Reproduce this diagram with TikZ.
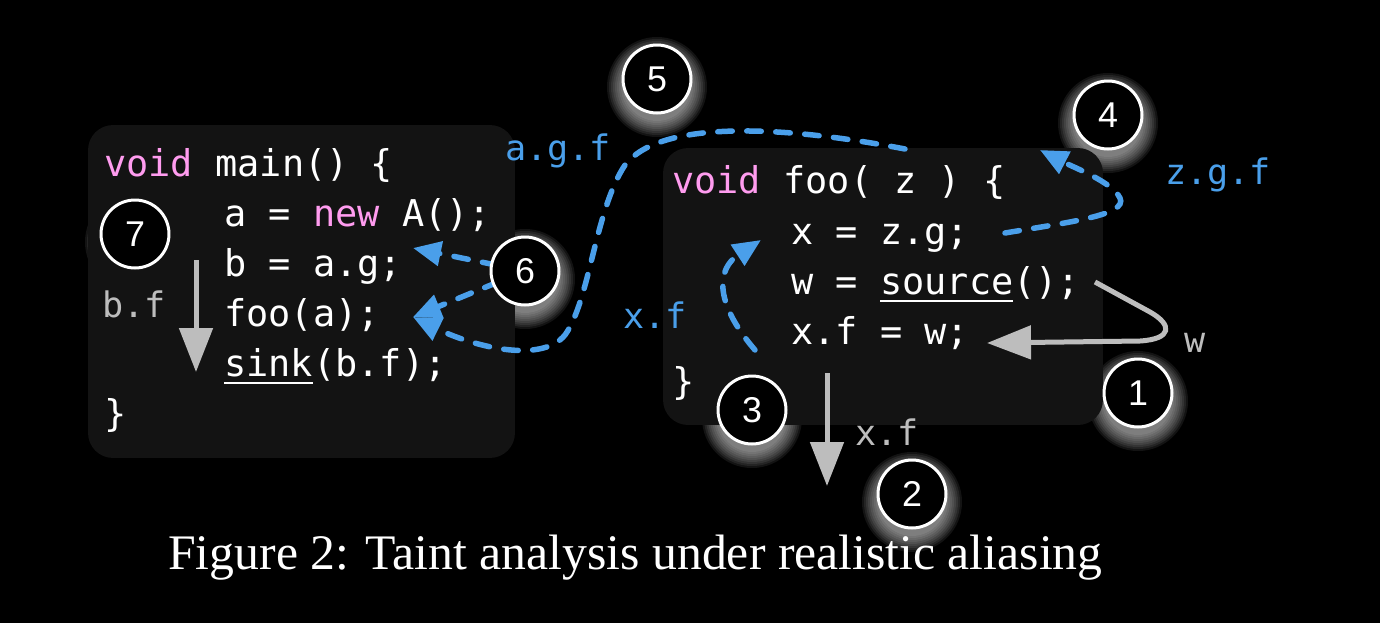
\documentclass[tikz,border=0pt]{standalone}
\usepackage{fontspec}
\setmainfont{Liberation Serif}
\setsansfont{Liberation Sans}
\setmonofont{DejaVu Sans Mono}
\usepackage{xcolor}
\usepackage{tikz}
\usetikzlibrary{arrows.meta}
\definecolor{boxgrey}{HTML}{131313}
\definecolor{kwpink}{HTML}{FF9CEF}
\definecolor{taintblue}{HTML}{4A9FEA}
\definecolor{flowgrey}{HTML}{BDBDBD}
\newcommand{\kw}[1]{\textcolor{kwpink}{#1}}
\newcommand{\undl}[1]{\setbox0\hbox{#1}\rlap{\rule[-0.23em]{\wd0}{0.08em}}\box0}
\tikzstyle{codebox} = [rectangle, rounded corners=0.5cm, fill=boxgrey, inner sep=0]
\tikzstyle{code} = [anchor=base west, inner sep=0, text=white, font=\ttfamily\fontsize{21}{25}\selectfont]
\tikzstyle{tlabel} = [anchor=base west, inner sep=0, text=taintblue, font=\ttfamily\fontsize{20}{24}\selectfont]
\tikzstyle{flabel} = [tlabel, text=flowgrey]
\tikzstyle{stepnum} = [circle, draw=white, line width=0.06cm, fill=black, text=white, minimum size=1.36cm, inner sep=0, font=\sffamily\fontsize{20.4}{22}\selectfont]
\tikzstyle{flow} = [line width=0.1cm, color=flowgrey, -{Triangle[length=0.88cm, width=0.66cm]}]
\tikzstyle{taint} = [line width=0.11cm, color=taintblue, line cap=round, dash pattern=on 0.29cm off 0.29cm, -{Triangle[length=0.56cm, width=0.48cm]}]

\begin{document}
\begin{tikzpicture}[x=0.02cm, y=-0.02cm]

% background
\fill[black] (0,0) rectangle (1380,623);
\useasboundingbox (0,0) rectangle (1380,623);

% step positions
\coordinate (p1) at (1138,393);
\coordinate (p2) at (912,494);
\coordinate (p3) at (752,410);
\coordinate (p4) at (1108,115);
\coordinate (p5) at (657,79);
\coordinate (p6) at (525,271);
\coordinate (p7) at (135,234);

% glow behind the steps
\foreach \i in {1,...,7}
  \foreach \r in {34,36,...,50}
    \fill[white, opacity=0.075] ([yshift=-0.16cm]p\i) circle (\r);

% code boxes
\node (mainbox) [codebox, minimum width=8.54cm, minimum height=6.66cm] at (301.5,291.5) {};
\node (foobox) [codebox, minimum width=8.8cm, minimum height=5.54cm] at (883,286.5) {};

\node (m1) [code] at (104,176) {\kw{void} main() \{};
\node (m2) [code] at (224,226) {a = \kw{new} A();};
\node (m3) [code] at (224,276) {b = a.g;};
\node (m4) [code] at (224,326) {foo(a);};
\node (m5) [code] at (224,376) {\undl{sink}(b.f);};
\node (m6) [code] at (104,426) {\}};

\node (f1) [code] at (672,193) {\kw{void} foo( z ) \{};
\node (f2) [code] at (791,244) {x = z.g;};
\node (f3) [code] at (791,294) {w = \undl{source}();};
\node (f4) [code] at (791,344) {x.f = w;};
\node (f5) [code] at (672,394) {\}};

% labels
\node (lagf) [tlabel] at (505,160) {a.g.f};
\node (lzgf) [tlabel] at (1165,184) {z.g.f};
\node (lxf) [tlabel] at (623,328) {x.f};
\node (lbf) [flabel] at (102,317) {b.f};
\node (lw) [flabel] at (1184,352) {w};
\node (lxf2) [flabel] at (855,445) {x.f};

% arrow ends
\coordinate (s1) at (1095,282);
\coordinate (e1) at (987,343);
\coordinate (s2) at (827,373);
\coordinate (e2) at (827,486);
\coordinate (s3) at (755,350);
\coordinate (e3) at (761,240);
\coordinate (s4) at (1005,233);
\coordinate (e4) at (1040,150);
\coordinate (s5) at (905,149);
\coordinate (tb) at (413,248);
\coordinate (tf) at (413,317);
\coordinate (s7) at (196,260);
\coordinate (e7) at (196,372);

% grey flows
\draw[flow] (s1) -- (1150,312) .. controls (1173,325) and (1172,339) .. (1140,341) -- (e1);
\draw[flow] (s2) -- (e2);
\draw[flow] (s7) -- (e7);

% taint flows
\draw[taint] (s3) .. controls (712,300) and (718,268) .. (e3);
\draw[taint] (s4) .. controls (1070,222) and (1128,215) .. (1120,198) .. controls (1112,182) and (1075,168) .. (e4);
\draw[taint] (s5) .. controls (780,125) and (660,120) .. (625,165) .. controls (595,210) and (590,300) .. (565,335) .. controls (540,365) and (470,345) .. (tf);
\draw[taint] (p6) -- (tb);
\draw[taint] (p6) -- (tf);

% steps
\foreach \i in {1,...,7}
  \node (c\i) [stepnum] at (p\i) {\i};

% caption
\node (caption) [anchor=base west, inner sep=0, text=white, font=\fontsize{28.3}{34}\selectfont] at (168,569) {Figure 2: Taint analysis under realistic aliasing};

\end{tikzpicture}
\end{document}
